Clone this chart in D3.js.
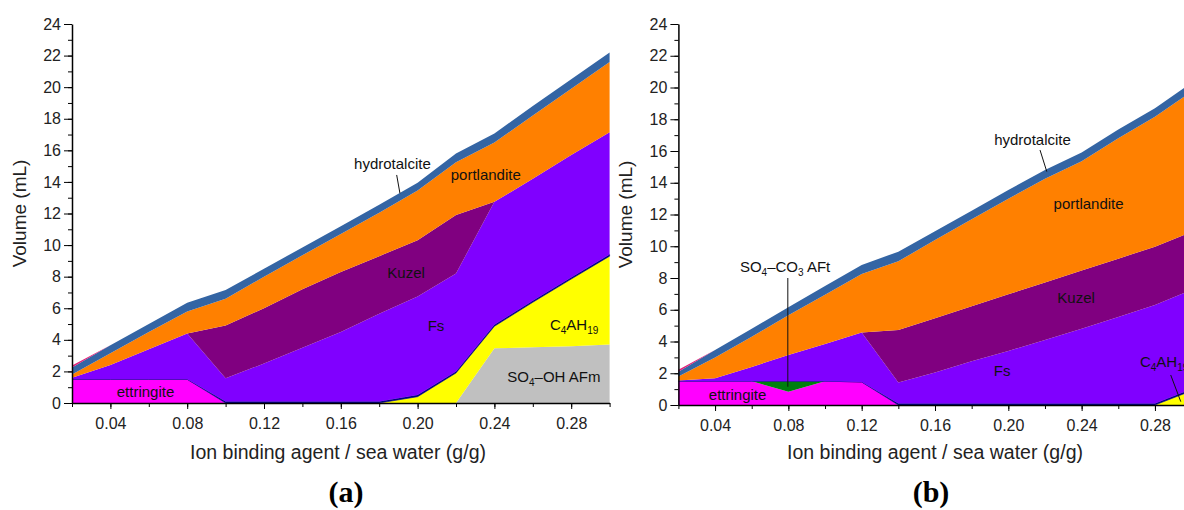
<!DOCTYPE html>
<html>
<head>
<meta charset="utf-8">
<script src="https://cdn.jsdelivr.net/npm/d3@7"></script>
<style>
  body { margin: 0; background: #fff; }
  svg { display: block; font-family: "Liberation Sans", Arial, sans-serif; }
</style>
</head>
<body>
<svg id="chart" width="1184" height="510"></svg>
<script>
// x values (g/g) shared by both panels
const xVals = [0.02, 0.04, 0.06, 0.08, 0.10, 0.12, 0.14, 0.16, 0.18, 0.20, 0.22, 0.24, 0.26, 0.28, 0.30];
const layerKeys = ["ettringite", "aft", "afm", "c4ah19", "minor", "fs", "kuzel", "portlandite", "hydrotalcite", "top"];

// panel (a) volumes, mL (layer thickness, stacked bottom to top)
const ettA   = [1.5, 1.5, 1.5, 1.5, 0, 0, 0, 0, 0, 0, 0, 0, 0, 0, 0];
const aftA   = [0, 0, 0, 0, 0, 0, 0, 0, 0, 0, 0, 0, 0, 0, 0];
const afmA   = [0, 0, 0, 0, 0, 0, 0, 0, 0, 0, 0, 3.46, 3.53, 3.6, 3.7];
const c4ahA  = [0, 0, 0, 0, 0, 0, 0, 0, 0, 0.4, 1.9, 1.4, 2.85, 4.25, 5.6];
const minorA = [0, 0, 0, 0, 0.1, 0.1, 0.1, 0.1, 0.1, 0.1, 0.1, 0.1, 0.1, 0.1, 0.1];
const fsA    = [0.1, 0.9, 1.9, 2.9, 1.46, 2.4, 3.4, 4.4, 5.55, 6.25, 6.2, 7.78, 7.72, 7.75, 7.75];
const kuzelA = [0, 0, 0, 0, 3.34, 3.5, 3.7, 3.8, 3.65, 3.55, 3.7, 0, 0, 0, 0];
const portA  = [0.2, 0.75, 1.1, 1.4, 1.7, 2.0, 2.15, 2.4, 2.75, 3.15, 3.35, 3.76, 4.0, 4.2, 4.45];
const hydroA = [0.45, 0.5, 0.5, 0.55, 0.55, 0.5, 0.5, 0.5, 0.5, 0.5, 0.55, 0.57, 0.6, 0.6, 0.6];
const topA   = [0.12, 0, 0, 0, 0, 0, 0, 0, 0, 0, 0, 0, 0, 0, 0];

// panel (b)
const ettB   = [1.5, 1.5, 1.5, 0.84, 1.5, 1.45, 0, 0, 0, 0, 0, 0, 0, 0, 0];
const aftB   = [0, 0, 0, 0.66, 0, 0, 0, 0, 0, 0, 0, 0, 0, 0, 0];
const afmB   = [0, 0, 0, 0, 0, 0, 0, 0, 0, 0, 0, 0, 0, 0, 0];
const c4ahB  = [0, 0, 0, 0, 0, 0, 0, 0, 0, 0, 0, 0, 0, 0, 0.9];
const minorB = [0, 0, 0, 0, 0, 0, 0.1, 0.1, 0.1, 0.1, 0.1, 0.1, 0.1, 0.1, 0.1];
const fsB    = [0.05, 0.18, 0.9, 1.65, 2.35, 3.11, 1.31, 1.95, 2.65, 3.3, 4.0, 4.7, 5.45, 6.2, 6.25];
const kuzelB = [0, 0, 0, 0, 0, 0, 3.31, 3.42, 3.47, 3.57, 3.62, 3.67, 3.67, 3.67, 3.65];
const portB  = [0.25, 1.32, 1.9, 2.5, 3.1, 3.69, 4.33, 4.93, 5.48, 6.03, 6.53, 6.88, 7.58, 8.18, 8.85];
const hydroB = [0.3, 0.46, 0.5, 0.5, 0.55, 0.57, 0.61, 0.55, 0.54, 0.55, 0.55, 0.55, 0.55, 0.55, 0.55];
const topB   = [0.12, 0, 0, 0, 0, 0, 0, 0, 0, 0, 0, 0, 0, 0, 0];

const colors = {
  ettringite: "#ff00ff",
  aft: "#007f0e",
  afm: "#c0c0c0",
  c4ah19: "#ffff00",
  minor: "#000080",
  fs: "#8000ff",
  kuzel: "#800080",
  portlandite: "#ff8000",
  hydrotalcite: "#3465a4",
  top: "#e0207a"
};

function rows(arrs) {
  return xVals.map((x, i) => {
    const r = { x };
    layerKeys.forEach((k, j) => r[k] = arrs[j][i]);
    return r;
  });
}

const dataA = rows([ettA, aftA, afmA, c4ahA, minorA, fsA, kuzelA, portA, hydroA, topA]);
const dataB = rows([ettB, aftB, afmB, c4ahB, minorB, fsB, kuzelB, portB, hydroB, topB]);

const svg = d3.select("#chart");

function sub(t, parts) {
  // parts: [text, isSub]
  parts.forEach(([s, isSub]) => {
    t.append("tspan")
      .attr("font-size", isSub ? 10 : null)
      .attr("baseline-shift", isSub ? "-4" : null)
      .text(s);
  });
}

function drawPanel(cfg) {
  const { data, left, right, top, bottom, labels, leaders } = cfg;
  const x = d3.scaleLinear().domain([0.02, 0.30]).range([left, right]);
  const y = d3.scaleLinear().domain([0, 24]).range([bottom, top]);
  const g = svg.append("g");

  const series = d3.stack().keys(layerKeys)(data);
  const area = d3.area()
    .x(d => x(d.data.x))
    .y0(d => y(d[0]))
    .y1(d => y(d[1]));

  g.selectAll("path.layer")
    .data(series)
    .join("path")
    .attr("class", "layer")
    .attr("fill", d => colors[d.key])
    .attr("stroke", d => d.key === "minor" ? colors.minor : "none")
    .attr("stroke-width", 0.6)
    .attr("d", area);

  // leader lines
  leaders.forEach(l => {
    g.append("line")
      .attr("x1", x(l[0])).attr("y1", y(l[1]))
      .attr("x2", x(l[2])).attr("y2", y(l[3]))
      .attr("stroke", "#111").attr("stroke-width", 1);
  });

  // labels
  labels.forEach(l => {
    const t = g.append("text")
      .attr("x", x(l.x)).attr("y", y(l.y))
      .attr("dy", "0.35em")
      .attr("text-anchor", l.anchor || "middle")
      .attr("font-size", 15)
      .attr("fill", "#111");
    sub(t, l.parts);
  });

  // axes
  const xMajor = d3.range(0.04, 0.29, 0.04);
  const xAll = d3.range(0.02, 0.301, 0.02);
  g.append("g")
    .attr("transform", `translate(0,${bottom})`)
    .call(d3.axisBottom(x).tickValues(xAll).tickSize(4).tickSizeOuter(0).tickFormat(""))
    .call(a => a.select(".domain").attr("stroke-width", 1.5));
  g.append("g")
    .attr("transform", `translate(0,${bottom})`)
    .call(d3.axisBottom(x).tickValues(xMajor).tickSize(6).tickSizeOuter(0).tickFormat(d3.format(".2f")))
    .call(a => a.select(".domain").remove())
    .call(a => a.selectAll("text").attr("font-size", 16).attr("fill", "#222").attr("font-family", "Liberation Sans, Arial").attr("dy", "1.05em"));

  g.append("g")
    .attr("transform", `translate(${left},0)`)
    .call(d3.axisLeft(y).tickValues(d3.range(0, 25, 1)).tickSize(4).tickSizeOuter(0).tickFormat(""))
    .call(a => a.select(".domain").attr("stroke-width", 1.5));
  g.append("g")
    .attr("transform", `translate(${left},0)`)
    .call(d3.axisLeft(y).tickValues(d3.range(0, 25, 2)).tickSize(8).tickSizeOuter(0))
    .call(a => a.select(".domain").remove())
    .call(a => a.selectAll("text").attr("font-size", 16).attr("fill", "#222").attr("font-family", "Liberation Sans, Arial"));

  // axis titles
  svg.append("text")
    .attr("transform", `translate(${cfg.yTitleX},${(top + bottom) / 2}) rotate(-90)`)
    .attr("text-anchor", "middle")
    .attr("font-size", 19)
    .attr("fill", "#222")
    .text("Volume (mL)");
  svg.append("text")
    .attr("x", cfg.xTitleX).attr("y", 459)
    .attr("text-anchor", "middle")
    .attr("font-size", 19.5)
    .attr("fill", "#222")
    .text("Ion binding agent / sea water (g/g)");
  svg.append("text")
    .attr("x", cfg.tagX).attr("y", 502)
    .attr("text-anchor", "middle")
    .attr("font-size", 30)
    .attr("font-weight", "bold")
    .attr("font-family", "Liberation Serif, 'Times New Roman', serif")
    .text(cfg.tag);
}

drawPanel({
  data: dataA, left: 72, right: 609.6, top: 24, bottom: 403,
  yTitleX: 26, xTitleX: 338, tagX: 346, tag: "(a)",
  labels: [
    { x: 0.1869, y: 15.18, parts: [["hydrotalcite", false]] },
    { x: 0.2355, y: 14.44, parts: [["portlandite", false]] },
    { x: 0.194, y: 8.23, parts: [["Kuzel", false]] },
    { x: 0.2096, y: 4.88, parts: [["Fs", false]] },
    { x: 0.2815, y: 4.94, parts: [["C", false], ["4", true], ["AH", false], ["19", true]] },
    { x: 0.271, y: 1.65, parts: [["SO", false], ["4", true], ["\u2013OH AFm", false]] },
    { x: 0.0583, y: 0.72, parts: [["ettringite", false]] }
  ],
  leaders: [[0.1891, 14.44, 0.1908, 13.28]]
});

drawPanel({
  data: dataB, left: 678.4, right: 1191.6, top: 24, bottom: 405,
  yTitleX: 632, xTitleX: 935, tagX: 931, tag: "(b)",
  labels: [
    { x: 0.0782, y: 8.71, parts: [["SO", false], ["4", true], ["\u2013CO", false], ["3", true], [" AFt", false]] },
    { x: 0.0523, y: 0.67, parts: [["ettringite", false]] },
    { x: 0.2132, y: 16.69, parts: [["hydrotalcite", false]] },
    { x: 0.2438, y: 12.66, parts: [["portlandite", false]] },
    { x: 0.237, y: 6.78, parts: [["Kuzel", false]] },
    { x: 0.1966, y: 2.16, parts: [["Fs", false]] },
    { x: 0.2718, y: 2.73, anchor: "start", parts: [["C", false], ["4", true], ["AH", false], ["19", true]] }
  ],
  leaders: [[0.0797, 8.0, 0.0797, 1.15], [0.2173, 16.06, 0.221, 14.7], [0.2886, 1.89, 0.2941, 0.21]]
});
</script>
</body>
</html>
